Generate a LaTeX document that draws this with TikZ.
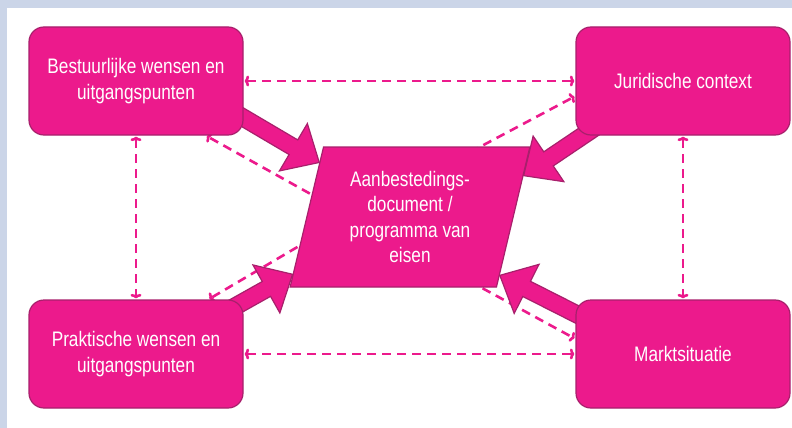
\documentclass[tikz,border=0pt]{standalone}
\usepackage{fontspec}
\newfontfamily\smalfont{Liberation Sans}[FakeStretch=0.82]
\usetikzlibrary{calc,shapes.geometric,arrows.meta,backgrounds}

\definecolor{roze}{HTML}{EC1A8C}
\definecolor{rozerand}{HTML}{A8206C}
\definecolor{achter}{HTML}{CBD5E8}

\tikzset{
  kader/.style={draw=rozerand, line width=1.2pt, fill=roze, rounded corners=15pt,
    minimum width=214pt, minimum height=108pt, text=white, align=center,
    font=\smalfont\fontsize{21pt}{25.5pt}\selectfont},
  stippel/.style={draw=roze, line width=2.6pt, dash pattern=on 9pt off 6pt,
    shorten <=1pt, shorten >=1pt, >={To[length=4.5pt,width=11pt]}},
  dik/.style={draw=rozerand, line width=1.2pt, fill=roze, line join=miter}
}

% blokpijl van #1 (staart) naar #2 (punt)
\newcommand\dikkepijl[2]{%
  \coordinate (kop) at ($(#2)!30pt!(#1)$);
  \draw[dik] ($(#1)!8.5pt!90:(#2)$) -- ($(kop)!8.5pt!90:(#2)$)
    -- ($(kop)!27.5pt!90:(#2)$) -- (#2)
    -- ($(kop)!27.5pt!-90:(#2)$) -- ($(kop)!8.5pt!-90:(#2)$)
    -- ($(#1)!8.5pt!-90:(#2)$) -- cycle;
}

\begin{document}
\begin{tikzpicture}[x=1pt,y=-1pt]
  \useasboundingbox (0,0) rectangle (792,428);

  \node[kader] (best) at (136,81) {Bestuurlijke wensen en\\uitgangspunten};
  \node[kader] (jur) at (683,81) {Juridische context};
  \node[kader] (prak) at (136,354) {Praktische wensen en\\uitgangspunten};
  \node[kader] (markt) at (683,354) {Marktsituatie};

  \node[kader, sharp corners, trapezium, trapezium left angle=76,
    trapezium right angle=104, trapezium stretches=true,
    minimum width=240pt, minimum height=140pt] (doc) at (410,217)
    {Aanbestedings-\\document /\\programma van\\eisen};

  \coordinate (hub) at ($(doc.center)+(-60,-1)$);

  \begin{scope}[on background layer]
    \fill[achter] (0,0) rectangle (792,428);
    \fill[white] (7,8) rectangle (792,428);

    % stippellijnen
    \draw[stippel,<->] (best.east) -- (jur.west);
    \draw[stippel,<->] (prak.east) -- (markt.west);
    \draw[stippel,<->] (best.south) -- (prak.north);
    \draw[stippel,<->] (jur.south) -- (markt.north);
    \draw[stippel,->] (hub) -- (best.-38);
    \draw[stippel,->] (hub) -- (jur.-172);
    \draw[stippel,->] (hub) -- (prak.37);
    \draw[stippel,->] (hub) -- (markt.172);

    % dikke pijlen
    \coordinate (s1) at ($(best.center)+(90,26.5)$);
    \coordinate (s2) at ($(jur.center)+(-62,29)$);
    \coordinate (s3) at ($(prak.center)+(58,-24.5)$);
    \coordinate (s4) at ($(markt.center)+(-86,-29.5)$);
    \dikkepijl{s1}{doc.149}
    \dikkepijl{s2}{doc.20}
    \dikkepijl{s3}{doc.-154}
    \dikkepijl{s4}{doc.-33}
  \end{scope}
\end{tikzpicture}
\end{document}
